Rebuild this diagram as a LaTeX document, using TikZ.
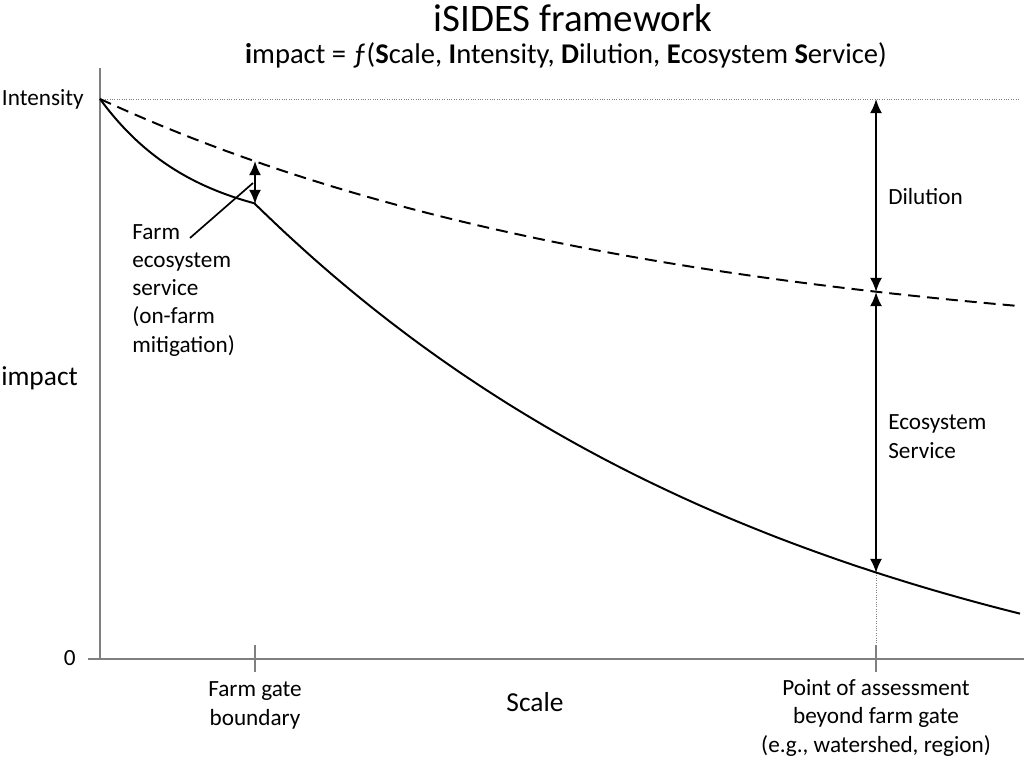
\documentclass[tikz,border=0pt]{standalone}
\usepackage{fontspec}
\setmainfont{Carlito}
\usetikzlibrary{arrows.meta}

\begin{document}
\begin{tikzpicture}[>={Latex[length=10pt,width=8.5pt]}, x=0.025cm, y=-0.025cm,
    axis/.style={gray, line width=1.5pt},
    guide/.style={gray, densely dotted, line width=0.7pt},
    curve/.style={line width=1.4pt},
    measure/.style={<->, line width=1.4pt},
    lbl/.style={font=\fontsize{16.5}{20}\selectfont, inner sep=0pt},
    big/.style={font=\fontsize{19.5}{24}\selectfont, inner sep=0pt}]
\useasboundingbox (0,0) rectangle (1024,761);

\node[font=\fontsize{27.7}{32}\selectfont] (title) at (573,18) {iSIDES framework};
\node[font=\fontsize{20.3}{24}\selectfont] (eq) at (566,55)
    {\textbf{i}mpact = ƒ(\textbf{S}cale, \textbf{I}ntensity, \textbf{D}ilution, \textbf{E}cosystem \textbf{S}ervice)};

% axes and ticks
\draw[axis] (100,68) -- (100,659);
\draw[axis] (88,659) -- (1024,659);
\foreach \x/\name in {255/gate,876/poa}
{
    \draw[axis] (\x,672) -- (\x,645) coordinate (\name);
}

\coordinate (I) at (100,99);
\coordinate (int) at (876,99);
\coordinate (dil) at (876,292);
\coordinate (es) at (876,573);
\coordinate (fdil) at (255,161);
\coordinate (fes) at (255,204);
\coordinate (tail) at (190,238);
\coordinate (head) at (253,183);

\draw[guide] (I) -- (1020,99);
\draw[guide] (es) -- (poa);

% curves
\draw[curve, dash pattern=on 8.5pt off 5pt] plot[domain=100:1020, samples=60] (\x,{99+256*(1-exp(-0.0018*(\x-100)))});
\draw[curve] plot[domain=100:255, samples=40] (\x,{99+130*(1-exp(-0.0105*(\x-100)))})
    -- plot[domain=255:1020, samples=80] (\x,{204+550*(1-exp(-0.00179*(\x-255)))});

\draw[measure] (int) -- (dil);
\draw[measure] (dil) -- (es);
\draw[measure] (fdil) -- (fes);
\draw[line width=1.2pt] (tail) -- (head);

% labels
\node[lbl, anchor=base east] (intensity) at (84,106) {Intensity};
\node[lbl, anchor=base east] (zero) at (76,665) {0};
\node[big, anchor=base west] (impact) at (1,385) {impact};
\node[big, anchor=base] (scale) at (535,711) {Scale};
\node[lbl, anchor=base west] (dilution) at (888,205) {Dilution};
\node[lbl, anchor=base west, align=left] (eslabel) at (888,458) {Ecosystem\\Service};
\node[lbl, anchor=base west, align=left] (farm) at (132,352) {Farm\\ecosystem\\service\\(on-farm\\mitigation)};
\node[lbl, anchor=base, align=center] (gatelabel) at (255,725) {Farm gate\\boundary};
\node[lbl, anchor=base, align=center] (poalabel) at (876,752) {Point of assessment\\beyond farm gate\\(e.g., watershed, region)};

\end{tikzpicture}
\end{document}
